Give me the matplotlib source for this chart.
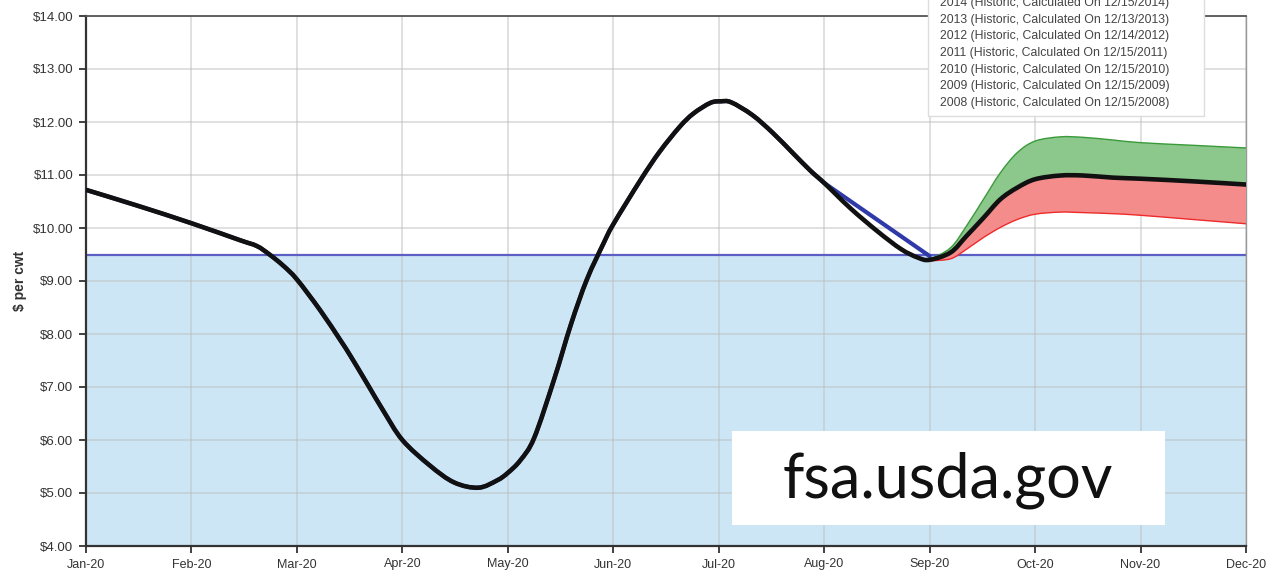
import numpy as np
import matplotlib
matplotlib.use("Agg")
import matplotlib.pyplot as plt
from matplotlib.patches import Rectangle, PathPatch
from matplotlib.path import Path

# month labels (x position = month index)
months = ["Jan-20", "Feb-20", "Mar-20", "Apr-20", "May-20", "Jun-20",
          "Jul-20", "Aug-20", "Sep-20", "Oct-20", "Nov-20", "Dec-20"]

# main price curve (month position, $ per cwt)
curve_x = [0.0, 0.49, 1.0, 1.46, 1.62, 1.74, 1.87, 2.0, 2.22, 2.41, 2.51, 2.67,
           2.82, 3.0, 3.26, 3.49, 3.72, 3.9, 4.0, 4.12, 4.25, 4.44, 4.6, 4.75,
           4.91, 5.0, 5.26, 5.44, 5.63, 5.76, 5.92, 6.02, 6.12, 6.32, 6.51,
           6.70, 6.87, 7.0, 7.25, 7.51, 7.73, 7.89, 8.0, 8.2, 8.35, 8.51, 8.67,
           8.83, 9.0, 9.24, 9.46, 9.74, 10.0, 10.5, 11.0]
curve_y = [10.72, 10.42, 10.09, 9.77, 9.66, 9.50, 9.29, 9.03, 8.45, 7.89, 7.58,
           7.05, 6.55, 6.0, 5.52, 5.20, 5.10, 5.24, 5.38, 5.62, 6.04, 7.15,
           8.19, 9.03, 9.72, 10.07, 10.91, 11.44, 11.91, 12.16, 12.36, 12.39,
           12.37, 12.13, 11.80, 11.42, 11.08, 10.85, 10.37, 9.93, 9.60, 9.44,
           9.40, 9.54, 9.85, 10.19, 10.54, 10.76, 10.92, 10.99, 10.99, 10.95,
           10.93, 10.88, 10.82]

# actual line (blue) Aug -> Sep
actual_x = [7.0, 8.0]
actual_y = [10.85, 9.47]

# forecast band (Sep -> Dec)
band_x = [8.0, 8.2, 8.35, 8.51, 8.67, 8.83, 9.0, 9.24, 9.46, 9.74, 10.0, 10.5, 11.0]
band_hi = [9.40, 9.63, 10.04, 10.54, 11.04, 11.42, 11.64, 11.72, 11.71, 11.66,
           11.61, 11.56, 11.51]
band_lo = [9.38, 9.42, 9.60, 9.82, 10.01, 10.16, 10.26, 10.30, 10.29, 10.27,
           10.24, 10.16, 10.08]
band_mid = [9.40, 9.54, 9.85, 10.19, 10.54, 10.76, 10.92, 10.99, 10.99, 10.95,
            10.93, 10.88, 10.82]

threshold = 9.50
yticks = [4, 5, 6, 7, 8, 9, 10, 11, 12, 13, 14]

legend_lines = [
    "2014 (Historic, Calculated On 12/15/2014)",
    "2013 (Historic, Calculated On 12/13/2013)",
    "2012 (Historic, Calculated On 12/14/2012)",
    "2011 (Historic, Calculated On 12/15/2011)",
    "2010 (Historic, Calculated On 12/15/2010)",
    "2009 (Historic, Calculated On 12/15/2009)",
    "2008 (Historic, Calculated On 12/15/2008)",
]


# spline through the points (catmull-rom as bezier segments), like the web chart
def spline_verts(xs, ys):
    pts = np.column_stack([xs, ys]).astype(float)
    n = len(pts)
    verts, codes = [pts[0]], [Path.MOVETO]
    for i in range(n - 1):
        p0 = pts[max(i - 1, 0)]
        p1 = pts[i]
        p2 = pts[i + 1]
        p3 = pts[min(i + 2, n - 1)]
        verts += [p1 + (p2 - p0) / 6, p2 - (p3 - p1) / 6, p2]
        codes += [Path.CURVE4] * 3
    return verts, codes


def spline_line(ax, xs, ys, **kw):
    v, c = spline_verts(xs, ys)
    ax.add_patch(PathPatch(Path(v, c), fill=False, **kw))


def spline_fill(ax, xs, y1, y2, **kw):
    v1, c1 = spline_verts(xs, y1)
    v2, c2 = spline_verts(xs[::-1], y2[::-1])
    c2[0] = Path.LINETO
    v = v1 + v2 + [v1[0]]
    c = c1 + c2 + [Path.CLOSEPOLY]
    ax.add_patch(PathPatch(Path(v, c), lw=0, **kw))


plt.rcParams['font.family'] = ['Liberation Sans', 'DejaVu Sans']

fig = plt.figure(figsize=(12.78, 5.79), dpi=100)
ax = fig.add_axes([86 / 1278, 33 / 579, 1160 / 1278, 530 / 579])

ax.set_xlim(0, 11)
ax.set_ylim(4, 14)

# shaded area under threshold
ax.axhspan(4, threshold, color="#cce6f6", zorder=0)
ax.axhline(threshold, color="#5b5fc4", lw=1.6, zorder=2)

ax.set_xticks(range(len(months)))
ax.set_xticklabels(months)
ax.set_yticks(yticks)
ax.set_yticklabels([f"${v:.2f}" for v in yticks])
ax.grid(True, color="#bdbdbd", lw=1.1, alpha=0.6, zorder=1)
ax.set_axisbelow(True)

# forecast band
spline_fill(ax, band_x, band_mid, band_hi, facecolor="#8cc78c", zorder=3)
spline_line(ax, band_x, band_hi, edgecolor="#3a9a3a", lw=1.0, zorder=3)
spline_fill(ax, band_x, band_lo, band_mid, facecolor="#f48c8c", zorder=3)
spline_line(ax, band_x, band_lo, edgecolor="#ee2a2a", lw=1.0, zorder=3)

# blue actual (follows the curve to Aug, then straight to Sep)
blue_x = [x for x in curve_x if x <= actual_x[0]]
blue_y = [y for x, y in zip(curve_x, curve_y) if x <= actual_x[0]]
spline_line(ax, blue_x, blue_y, edgecolor="#2f3aa8", lw=3.0, zorder=4)
ax.plot(actual_x, actual_y, color="#2f3aa8", lw=3.0, zorder=4,
        solid_capstyle="round")

# black curve
spline_line(ax, curve_x, curve_y, edgecolor="#111111", lw=3.3, zorder=5,
            joinstyle="round", capstyle="round")

for s in ["left", "bottom"]:
    ax.spines[s].set_color("#333333")
    ax.spines[s].set_linewidth(1.6)
ax.spines["top"].set_color("#555555")
ax.spines["top"].set_linewidth(1.3)
ax.spines["right"].set_color("#999999")
ax.spines["right"].set_linewidth(1.0)

ax.tick_params(axis="both", length=5, width=1.3, color="#333333",
               labelsize=9.5, labelcolor="#333333")
ax.tick_params(axis="x", labelsize=9, pad=4)
ax.tick_params(axis="y", pad=4)

ax.set_ylabel("$ per cwt", fontsize=10, fontweight="bold", color="#333333",
              labelpad=4)

# legend popup in top right (partly cut off, as in the source)
fig.patches.append(Rectangle((928 / 1278, 1 - 116 / 579), 276 / 1278, 120 / 579,
                             transform=fig.transFigure, facecolor="white",
                             edgecolor="#dddddd", lw=1.0, zorder=10))
for i, t in enumerate(legend_lines):
    fig.text(940 / 1278, 1 - (3 + i * 16.7) / 579, t, fontsize=8.8,
             color="#444444", ha="left", va="center", zorder=11)

# watermark
fig.patches.append(Rectangle((732 / 1278, 1 - 525 / 579), 433 / 1278, 94 / 579,
                             transform=fig.transFigure, facecolor="white",
                             edgecolor="none", zorder=10))
fig.text(948 / 1278, 1 - 480 / 579, "fsa.usda.gov", fontsize=44,
         family=["Lato", "DejaVu Sans"], color="#111111",
         ha="center", va="center", zorder=11)

fig.savefig("out.png", dpi=100)
